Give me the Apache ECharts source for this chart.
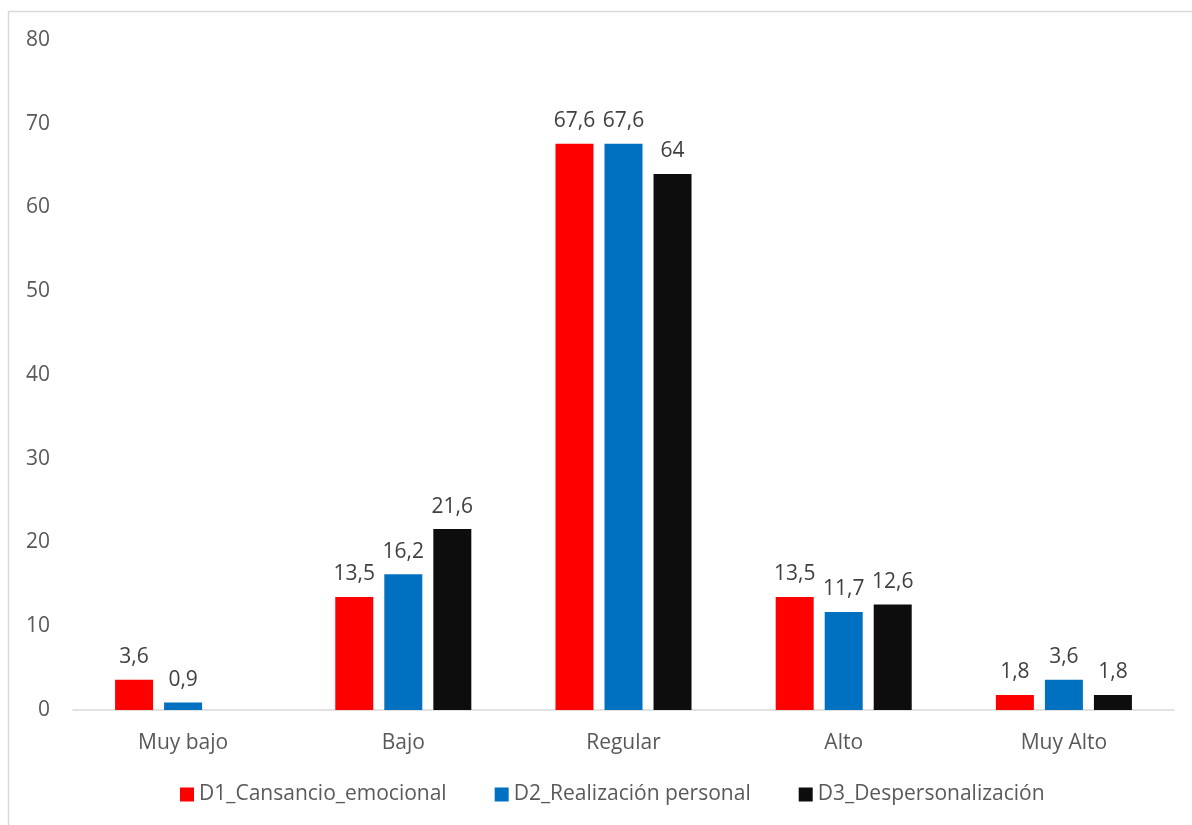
<!DOCTYPE html>
<html>
<head>
<meta charset="utf-8">
<script src="https://cdn.jsdelivr.net/npm/echarts@6/dist/echarts.min.js"></script>
<style>
html,body{margin:0;padding:0;background:#fff;}
#chart{width:1192px;height:825px;}
</style>
</head>
<body>
<div id="chart"></div>
<script>
const categories = ["Muy bajo", "Bajo", "Regular", "Alto", "Muy Alto"];
const seriesNames = ["D1_Cansancio_emocional", "D2_Realización personal", "D3_Despersonalización"];
const d1Values = [3.6, 13.5, 67.6, 13.5, 1.8];
const d2Values = [0.9, 16.2, 67.6, 11.7, 3.6];
const d3Values = [null, 21.6, 64, 12.6, 1.8];
const seriesColors = ["#FF0000", "#0070C0", "#0D0D0D"];
const yTicks = { min: 0, max: 80, interval: 10 };

const FONT = "'Open Sans', 'Noto Sans', sans-serif";
const FS = 21;
const chart = echarts.init(document.getElementById('chart'), null, { renderer: 'canvas' });

function mkSeries(name, data, color) {
  return {
    name: name,
    type: 'bar',
    data: data,
    barWidth: 38,
    barGap: '29%',
    itemStyle: { color: color },
    label: {
      show: true,
      position: 'top',
      distance: 12,
      color: '#404040',
      fontFamily: FONT,
      fontSize: FS,
      formatter: p => (p.value == null ? '' : String(p.value).replace('.', ','))
    }
  };
}

chart.setOption({
  animation: false,
  backgroundColor: '#ffffff',
  graphic: [{
    type: 'rect',
    shape: { x: 8.5, y: 11.5, width: 1300, height: 900 },
    style: { fill: 'none', stroke: '#d9d9d9', lineWidth: 1.5 },
    silent: true
  }],
  grid: { left: 73, right: 18, top: 40, bottom: 115, containLabel: false },
  legend: {
    data: seriesNames,
    bottom: 15,
    left: 175,
    itemWidth: 14,
    itemHeight: 14,
    itemGap: 48,
    icon: 'rect',
    textStyle: { color: '#595959', fontFamily: FONT, fontSize: FS }
  },
  xAxis: {
    type: 'category',
    data: categories,
    axisLine: { show: true, lineStyle: { color: '#d9d9d9', width: 1.5 } },
    axisTick: { show: false },
    axisLabel: { color: '#595959', fontFamily: FONT, fontSize: FS, margin: 23 }
  },
  yAxis: {
    type: 'value',
    min: yTicks.min,
    max: yTicks.max,
    interval: yTicks.interval,
    axisLine: { show: false },
    axisTick: { show: false },
    splitLine: { show: false },
    axisLabel: { color: '#595959', fontFamily: FONT, fontSize: FS, margin: 23 }
  },
  series: [
    mkSeries(seriesNames[0], d1Values, seriesColors[0]),
    mkSeries(seriesNames[1], d2Values, seriesColors[1]),
    mkSeries(seriesNames[2], d3Values, seriesColors[2])
  ]
});
</script>
</body>
</html>
